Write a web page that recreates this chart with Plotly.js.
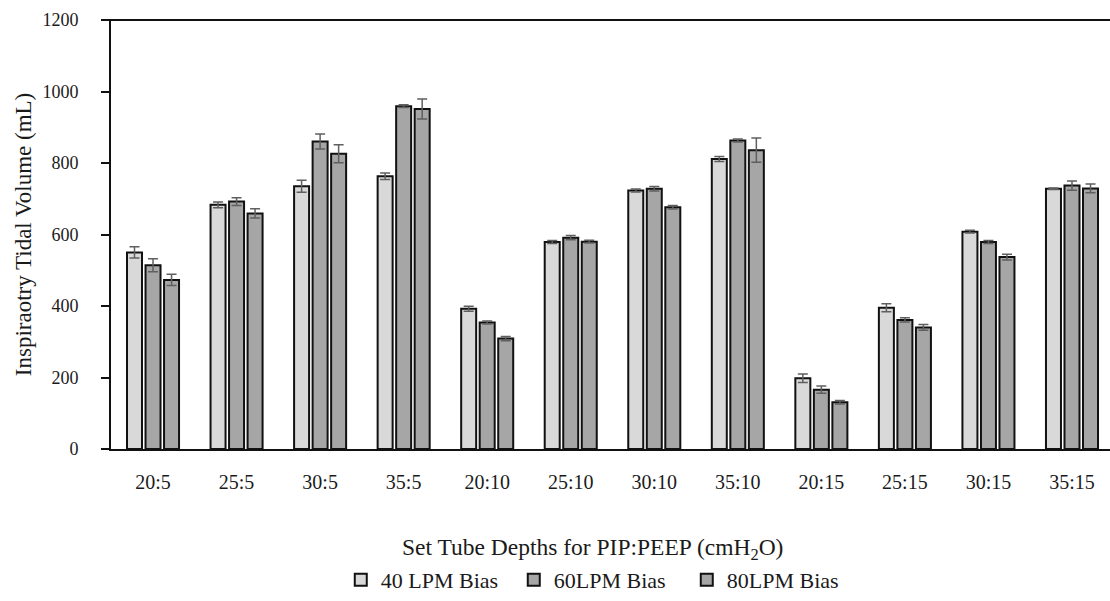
<!DOCTYPE html>
<html>
<head>
<meta charset="utf-8">
<script src="https://cdn.plot.ly/plotly-3.0.1.min.js"></script>
<style>
html,body{margin:0;padding:0;background:#fff;}
#chart{width:1110px;height:601px;}
</style>
</head>
<body>
<div id="chart"></div>
<script>
const categories = ["20:5","25:5","30:5","35:5","20:10","25:10","30:10","35:10","20:15","25:15","30:15","35:15"];
const seriesNames = ["40 LPM Bias","60LPM Bias","80LPM Bias"];
const bias40 = [550, 683, 735, 763, 392, 579, 723, 811, 198, 395, 608, 728];
const bias60 = [514, 692, 860, 959, 354, 591, 728, 863, 166, 361, 579, 737];
const bias80 = [473, 659, 826, 951, 309, 580, 676, 836, 131, 340, 537, 729];
const err40 = [16, 8, 17, 9, 7, 4, 4, 7, 12, 11, 4, 2];
const err60 = [18, 11, 21, 4, 4, 6, 6, 4, 10, 6, 4, 13];
const err80 = [16, 13, 25, 28, 6, 4, 5, 34, 5, 8, 8, 12];
const colors = ["#d9d9d9","#a6a6a6","#a6a6a6"];
const xTitle = "Set Tube Depths for PIP:PEEP (cmH<sub>2</sub>O)";
const yTitle = "Inspiraotry Tidal Volume (mL)";

const FONT = "Liberation Serif, Times New Roman, serif";
const vals = [bias40, bias60, bias80];
const errs = [err40, err60, err80];

const traces = vals.map((v, i) => ({
  type: "bar",
  name: seriesNames[i],
  x: categories,
  y: v,
  marker: {color: colors[i], line: {color: "#111", width: 2}},
  error_y: {type: "data", array: errs[i], visible: true, color: "#5f5f5f", thickness: 1.5, width: 5}
}));

const layout = {
  width: 1110, height: 601,
  margin: {l: 111, r: 0, t: 20, b: 151},
  paper_bgcolor: "#fff", plot_bgcolor: "#fff",
  font: {family: FONT, size: 18, color: "#1a1a1a"},
  barmode: "group",
  bargap: 0.335,
  bargroupgap: 0.19,
  showlegend: true,
  legend: {orientation: "h", x: 0.23, xanchor: "left", y: -0.305, yanchor: "middle",
           entrywidth: 128, entrywidthmode: "pixels",
           font: {family: FONT, size: 22, color: "#1a1a1a"}, itemwidth: 30, tracegroupgap: 0},
  xaxis: {
    type: "category", range: [-0.503, 11.455],
    showline: true, linecolor: "#111", linewidth: 2,
    ticks: "", showgrid: false, zeroline: false,
    tickfont: {family: FONT, size: 20, color: "#1a1a1a"},
    ticklabelstandoff: 14
  },
  yaxis: {
    range: [0, 1200], dtick: 200,
    showline: true, linecolor: "#111", linewidth: 2,
    ticks: "outside", ticklen: 8, tickwidth: 2, tickcolor: "#111",
    showgrid: false, zeroline: false,
    tickfont: {family: FONT, size: 18, color: "#1a1a1a"},
    ticklabelstandoff: 19,
    title: {text: yTitle, font: {family: FONT, size: 23, color: "#1a1a1a"}, standoff: 4}
  },
  annotations: [{text: xTitle, xref: "paper", yref: "paper", x: 0.4815, y: -0.2326,
                 xanchor: "center", yanchor: "middle", showarrow: false,
                 font: {family: FONT, size: 23.5, color: "#1a1a1a"}}],
  shapes: [{type: "line", xref: "paper", yref: "paper", x0: -0.008, x1: 1, y0: 1, y1: 1,
            line: {color: "#111", width: 2}}]
};

Plotly.newPlot("chart", traces, layout, {displayModeBar: false, staticPlot: true});
</script>
</body>
</html>
